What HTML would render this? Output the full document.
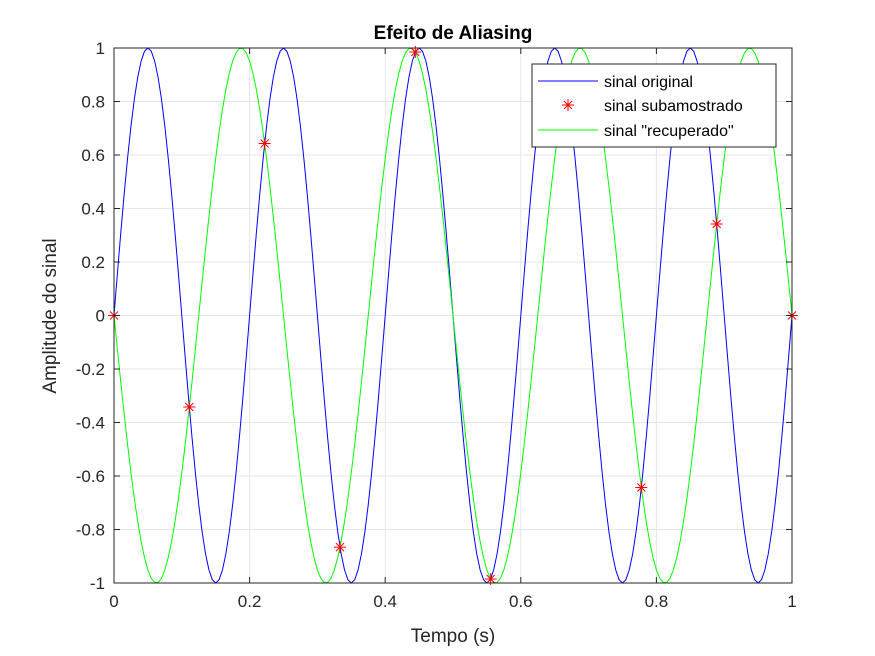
<!DOCTYPE html>
<html><head><meta charset="utf-8"><style>
body{margin:0;background:#fff;}
svg{display:block;font-family:"Liberation Sans",Arial,sans-serif;}
</style></head><body>
<svg id="chart" width="875" height="656" viewBox="0 0 875 656">
<rect width="875" height="656" fill="#fff"/>
<g id="grid"></g>
<g id="series"></g>
<rect x="114" y="48" width="678" height="535" fill="none" stroke="#262626" stroke-width="1"/>
<g id="ticks"></g>
<text x="453" y="39" text-anchor="middle" font-size="19" font-weight="bold" fill="#000">Efeito de Aliasing</text>
<text x="453" y="642" text-anchor="middle" font-size="19" fill="#262626">Tempo (s)</text>
<text transform="translate(56,316) rotate(-90)" text-anchor="middle" font-size="19" fill="#262626">Amplitude do sinal</text>
<g>
<rect x="532" y="64" width="244" height="83" fill="#fff" stroke="#262626" stroke-width="1"/>
<line x1="538" y1="81" x2="598" y2="81" stroke="#0000ff" stroke-width="1"/>
<text x="604" y="87" font-size="16" fill="#000">sinal original</text>
<g stroke="#ff0000" stroke-width="1">
<line x1="562" y1="105" x2="574" y2="105"/><line x1="568" y1="99" x2="568" y2="111"/><line x1="564" y1="101" x2="572" y2="109"/><line x1="572" y1="101" x2="564" y2="109"/></g>
<text x="604" y="111" font-size="16" fill="#000">sinal subamostrado</text>
<line x1="538" y1="130" x2="598" y2="130" stroke="#00ff00" stroke-width="1"/>
<text x="604" y="136" font-size="16" fill="#000">sinal "recuperado"</text>
</g>
</svg>
<script>
const xTicks = [0, 0.2, 0.4, 0.6, 0.8, 1];
const xTickLabels = ["0", "0.2", "0.4", "0.6", "0.8", "1"];
const yTicks = [-1, -0.8, -0.6, -0.4, -0.2, 0, 0.2, 0.4, 0.6, 0.8, 1];
const yTickLabels = ["-1", "-0.8", "-0.6", "-0.4", "-0.2", "0", "0.2", "0.4", "0.6", "0.8", "1"];
const originalFreq = [5];
const originalSign = [1];
const recoveredFreq = [4];
const recoveredSign = [-1];
const sampleTimes = [0, 0.1111, 0.2222, 0.3333, 0.4444, 0.5556, 0.6667, 0.7778, 0.8889, 1];
const sampleValues = [0, -0.342, 0.643, -0.866, 0.985, -0.985, 0.866, -0.643, 0.342, 0];

const NS = "http://www.w3.org/2000/svg";
const X0 = 114, X1 = 792, Y0 = 583, Y1 = 48;
const xs = v => X0 + v * (X1 - X0);
const ys = v => Y0 - (v + 1) / 2 * (Y0 - Y1);
function mk(tag, attrs, parent) {
  const e = document.createElementNS(NS, tag);
  for (const k in attrs) e.setAttribute(k, attrs[k]);
  parent.appendChild(e); return e;
}
const grid = document.getElementById("grid"), ticks = document.getElementById("ticks"), series = document.getElementById("series");
xTicks.forEach((t, i) => {
  const g = mk("line", {x1: xs(t), x2: xs(t), y1: Y1, y2: Y0, stroke: "#e6e6e6"}, grid);
  
  
  const tk = mk("line", {x1: xs(t), x2: xs(t), y1: Y0, y2: Y0 - 6, stroke: "#262626"}, ticks);
  
  
  const tk2 = mk("line", {x1: xs(t), x2: xs(t), y1: Y1, y2: Y1 + 6, stroke: "#262626"}, ticks);
  
  
  const tx = mk("text", {x: xs(t), y: Y0 + 24, "text-anchor": "middle", "font-size": "17", fill: "#262626"}, ticks);
  tx.textContent = xTickLabels[i];
  
  
});
yTicks.forEach((t, i) => {
  const g = mk("line", {x1: X0, x2: X1, y1: ys(t), y2: ys(t), stroke: "#e6e6e6"}, grid);
  
  
  const tk = mk("line", {x1: X0, x2: X0 + 6, y1: ys(t), y2: ys(t), stroke: "#262626"}, ticks);
  
  
  const tk2 = mk("line", {x1: X1, x2: X1 - 6, y1: ys(t), y2: ys(t), stroke: "#262626"}, ticks);
  
  
  const tx = mk("text", {x: X0 - 9, y: ys(t) + 6, "text-anchor": "end", "font-size": "17", fill: "#262626"}, ticks);
  tx.textContent = yTickLabels[i];
  
  
});
function curve(f, s) {
  let d = "";
  for (let i = 0; i <= 200; i++) {
    const t = i / 200;
    d += (i ? "L" : "M") + xs(t).toFixed(2) + "," + ys(s * Math.sin(2 * Math.PI * f * t)).toFixed(2);
  }
  return d;
}
const p1 = mk("path", {d: curve(originalFreq[0], originalSign[0]), fill: "none", stroke: "#0000ff", "stroke-width": "1"}, series);


const p2 = mk("path", {d: curve(recoveredFreq[0], recoveredSign[0]), fill: "none", stroke: "#00ff00", "stroke-width": "1"}, series);


sampleTimes.forEach((t, i) => {
  const cx = xs(t), cy = ys(sampleValues[i]);
  const g = mk("g", {stroke: "#ff0000", "stroke-width": "1"}, series);
  
  
  mk("line", {x1: cx - 6, x2: cx + 6, y1: cy, y2: cy}, g);
  mk("line", {x1: cx, x2: cx, y1: cy - 6, y2: cy + 6}, g);
  mk("line", {x1: cx - 4, x2: cx + 4, y1: cy - 4, y2: cy + 4}, g);
  mk("line", {x1: cx + 4, x2: cx - 4, y1: cy - 4, y2: cy + 4}, g);
});
</script>
</body></html>
